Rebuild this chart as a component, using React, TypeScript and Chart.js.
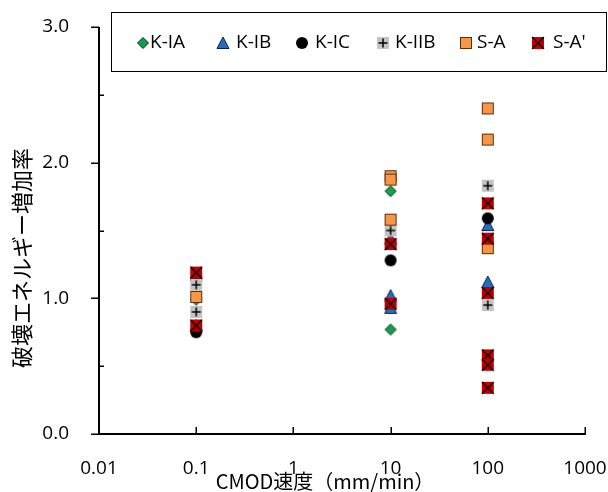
import React, { useEffect, useRef } from "react";
import { Chart, registerables } from "chart.js";
Chart.register(...registerables);

const xTicks = [0.01, 0.1, 1, 10, 100, 1000];
const yMinorTicks = [0.5, 1.5, 2.5];
const xTitle = "CMOD速度（mm/min）";
const yTitle = "破壊エネルギー増加率";

const seriesNames = ["K-IA", "K-IB", "K-IC", "K-IIB", "S-A", "S-A'"];

const kIA_x = [0.1, 10, 10];
const kIA_y = [0.99, 1.79, 0.77];
const kIB_x = [0.1, 10, 10, 10, 100, 100];
const kIB_y = [0.8, 1.44, 1.02, 0.93, 1.54, 1.12];
const kIC_x = [0.1, 0.1, 10, 100];
const kIC_y = [1.14, 0.75, 1.28, 1.59];
const kIIB_x = [0.1, 0.1, 10, 100, 100];
const kIIB_y = [1.1, 0.9, 1.5, 1.83, 0.95];
const sA_x = [0.1, 10, 10, 10, 100, 100, 100];
const sA_y = [1.01, 1.9, 1.875, 1.58, 2.4, 2.17, 1.37];
const sA2_x = [0.1, 0.1, 10, 10, 100, 100, 100, 100, 100, 100];
const sA2_y = [1.19, 0.8, 1.4, 0.96, 1.7, 1.44, 1.04, 0.58, 0.51, 0.34];

const FONT = "'Open Sans', 'Noto Sans', sans-serif";
const CJK = "'Noto Sans CJK JP', sans-serif";

function makeMarker(kind: string): HTMLCanvasElement {
  const s = 16;
  const c = document.createElement("canvas");
  c.width = s;
  c.height = s;
  const ctx = c.getContext("2d")!;
  const m = s / 2;
  const h = 6;
  ctx.lineWidth = 1;
  if (kind === "diamond") {
    const d = 5.5;
    ctx.beginPath();
    ctx.moveTo(m, m - d);
    ctx.lineTo(m + d, m);
    ctx.lineTo(m, m + d);
    ctx.lineTo(m - d, m);
    ctx.closePath();
    ctx.fillStyle = "#12a04a";
    ctx.fill();
    ctx.strokeStyle = "#0a2a12";
    ctx.stroke();
  } else if (kind === "triangle") {
    ctx.beginPath();
    ctx.moveTo(m, m - 6);
    ctx.lineTo(m + 6, m + 5.5);
    ctx.lineTo(m - 6, m + 5.5);
    ctx.closePath();
    ctx.fillStyle = "#1f6fc4";
    ctx.fill();
    ctx.strokeStyle = "#0b1f3a";
    ctx.stroke();
  } else if (kind === "circle") {
    ctx.beginPath();
    ctx.arc(m, m, 6, 0, Math.PI * 2);
    ctx.fillStyle = "#000";
    ctx.fill();
  } else if (kind === "plus") {
    ctx.fillStyle = "#c4c4c4";
    ctx.fillRect(m - h, m - h, 2 * h, 2 * h);
    ctx.strokeStyle = "#000";
    ctx.lineWidth = 1.5;
    ctx.beginPath();
    ctx.moveTo(m - 4.5, m);
    ctx.lineTo(m + 4.5, m);
    ctx.moveTo(m, m - 4.5);
    ctx.lineTo(m, m + 4.5);
    ctx.stroke();
  } else if (kind === "square") {
    ctx.fillStyle = "#f79646";
    ctx.fillRect(m - h, m - h, 2 * h, 2 * h);
    ctx.strokeStyle = "#5a2e0a";
    ctx.strokeRect(m - h + 0.5, m - h + 0.5, 2 * h - 1, 2 * h - 1);
  } else if (kind === "xbox") {
    ctx.fillStyle = "#c00000";
    ctx.fillRect(m - h, m - h, 2 * h, 2 * h);
    ctx.strokeStyle = "#000";
    ctx.lineWidth = 1.2;
    ctx.beginPath();
    ctx.moveTo(m - h, m - h);
    ctx.lineTo(m + h, m + h);
    ctx.moveTo(m + h, m - h);
    ctx.lineTo(m - h, m + h);
    ctx.stroke();
  }
  return c;
}

const markerKinds = ["diamond", "triangle", "circle", "plus", "square", "xbox"];
const legendMarkerX = [143, 223, 302, 383, 466, 538];
const legendTextX = [150, 236, 315, 395, 477, 553];

function pts(xs: number[], ys: number[]) {
  return xs.map((x, i) => ({ x, y: ys[i] }));
}

export default function App() {
  const ref = useRef<HTMLCanvasElement | null>(null);
  useEffect(() => {
    const canvas = ref.current!;
    const markers = markerKinds.map(makeMarker);
    const seriesData = [
      pts(kIA_x, kIA_y),
      pts(kIB_x, kIB_y),
      pts(kIC_x, kIC_y),
      pts(kIIB_x, kIIB_y),
      pts(sA_x, sA_y),
      pts(sA2_x, sA2_y),
    ];

    const decor = {
      id: "decor",
      beforeDatasetsDraw(chart: any) {
        const { ctx, chartArea: ca, scales } = chart;
        const x = scales.x;
        const y = scales.y;
        ctx.save();
        ctx.strokeStyle = "#000";
        ctx.lineWidth = 2;
        ctx.beginPath();
        ctx.moveTo(ca.left, ca.top);
        ctx.lineTo(ca.left, ca.bottom);
        ctx.lineTo(ca.right + 1, ca.bottom);
        ctx.stroke();
        ctx.lineWidth = 1.5;
        ctx.beginPath();
        for (const v of [0, 1, 2, 3]) {
          const py = Math.round(y.getPixelForValue(v)) + 0.25;
          ctx.moveTo(ca.left - 8, py);
          ctx.lineTo(ca.left, py);
        }
        for (const v of yMinorTicks) {
          const py = Math.round(y.getPixelForValue(v)) + 0.25;
          ctx.moveTo(ca.left, py);
          ctx.lineTo(ca.left + 5, py);
        }
        for (const v of xTicks) {
          const px = Math.round(x.getPixelForValue(v)) + 0.25;
          ctx.moveTo(px, ca.bottom);
          ctx.lineTo(px, ca.bottom - 7);
        }
        ctx.stroke();
        ctx.fillStyle = "#000";
        ctx.textAlign = "center";
        ctx.textBaseline = "middle";
        ctx.font = `20px ${CJK}`;
        ctx.fillText(xTitle, 325, 481);
        ctx.save();
        ctx.translate(22, 258);
        ctx.rotate(-Math.PI / 2);
        ctx.font = `22px ${CJK}`;
        ctx.fillText(yTitle, 0, 0);
        ctx.restore();
        ctx.restore();
      },
      afterDraw(chart: any) {
        const { ctx } = chart;
        ctx.save();
        ctx.fillStyle = "#fff";
        ctx.fillRect(111, 12, 495, 60);
        ctx.strokeStyle = "#000";
        ctx.lineWidth = 1;
        ctx.strokeRect(111.5, 12.5, 495, 59);
        ctx.fillStyle = "#000";
        ctx.font = `19px ${FONT}`;
        ctx.textAlign = "left";
        ctx.textBaseline = "middle";
        seriesNames.forEach((name, i) => {
          const m = markers[i];
          ctx.drawImage(m, legendMarkerX[i] - m.width / 2, 43 - m.height / 2);
          ctx.fillText(name, legendTextX[i], 43);
        });
        ctx.restore();
      },
    };

    const chart = new Chart(canvas, {
      type: "scatter",
      data: {
        datasets: seriesNames.map((name, i) => ({
          label: name,
          data: seriesData[i],
          pointStyle: markers[i] as any,
          pointRadius: 6,
          showLine: false,
          order: seriesNames.length - 1 - i,
        })),
      },
      options: {
        animation: false,
        responsive: false,
        maintainAspectRatio: false,
        layout: { padding: { top: 27, right: 23, left: 0, bottom: 0 } },
        plugins: {
          legend: { display: false },
          tooltip: { enabled: false },
        },
        scales: {
          x: {
            type: "logarithmic",
            min: 0.01,
            max: 1000,
            afterBuildTicks: (s: any) => {
              s.ticks = xTicks.map((v) => ({ value: v }));
            },
            afterFit: (s: any) => {
              s.height = 58;
              s.paddingLeft = 0;
              s.paddingRight = 0;
            },
            grid: { display: false },
            border: { display: false },
            ticks: {
              autoSkip: false,
              maxRotation: 0,
              padding: 15,
              color: "#000",
              font: { family: FONT, size: 19 },
              callback: (v: any) => String(v),
            },
          },
          y: {
            type: "linear",
            min: 0,
            max: 3,
            afterFit: (s: any) => {
              s.width = 99;
              s.paddingTop = 0;
              s.paddingBottom = 0;
            },
            grid: { display: false },
            border: { display: false },
            ticks: {
              stepSize: 1,
              padding: 22,
              color: "#000",
              font: { family: FONT, size: 19 },
              callback: (v: any) => Number(v).toFixed(1),
            },
          },
        },
      },
      plugins: [decor],
    });
    return () => chart.destroy();
  }, []);

  return (
    <div style={{ position: "fixed", left: 0, top: 0, width: 608, height: 492, background: "#fff" }}>
      <canvas ref={ref} width={608} height={492} style={{ width: 608, height: 492, display: "block" }} />
    </div>
  );
}
